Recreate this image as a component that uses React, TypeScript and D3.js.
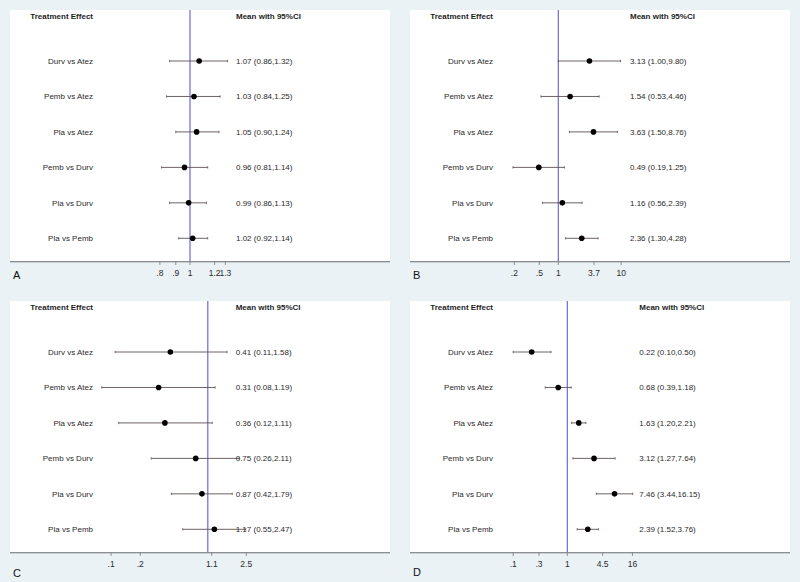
import React from "react";
import * as d3 from "d3";

const comparisons = ["Durv vs Atez", "Pemb vs Atez", "Pla vs Atez", "Pemb vs Durv", "Pla vs Durv", "Pla vs Pemb"];

const meanA = [1.07, 1.03, 1.05, 0.96, 0.99, 1.02];
const lowA = [0.86, 0.84, 0.9, 0.81, 0.86, 0.92];
const highA = [1.32, 1.25, 1.24, 1.14, 1.13, 1.14];
const ticksA = [0.8, 0.9, 1, 1.2, 1.3];
const tickLabelsA = [".8", ".9", "1", "1.2", "1.3"];

const meanB = [3.13, 1.54, 3.63, 0.49, 1.16, 2.36];
const lowB = [1.0, 0.53, 1.5, 0.19, 0.56, 1.3];
const highB = [9.8, 4.46, 8.76, 1.25, 2.39, 4.28];
const ticksB = [0.2, 0.5, 1, 3.7, 10];
const tickLabelsB = [".2", ".5", "1", "3.7", "10"];

const meanC = [0.41, 0.31, 0.36, 0.75, 0.87, 1.17];
const lowC = [0.11, 0.08, 0.12, 0.26, 0.42, 0.55];
const highC = [1.58, 1.19, 1.11, 2.11, 1.79, 2.47];
const ticksC = [0.1, 0.2, 1.1, 2.5];
const tickLabelsC = [".1", ".2", "1.1", "2.5"];

const meanD = [0.22, 0.68, 1.63, 3.12, 7.46, 2.39];
const lowD = [0.1, 0.39, 1.2, 1.27, 3.44, 1.52];
const highD = [0.5, 1.18, 2.21, 7.64, 16.15, 3.76];
const ticksD = [0.1, 0.3, 1, 4.5, 16];
const tickLabelsD = [".1", ".3", "1", "4.5", "16"];

const panelLetters = ["A", "B", "C", "D"];

const fmt = (v: number) => v.toFixed(2);

type PanelDef = {
  letter: string;
  x: number;
  y: number;
  nullX: number;
  k: number;
  textX: number;
  letterY: number;
  mean: number[];
  low: number[];
  high: number[];
  ticks: number[];
  tickLabels: string[];
};

const W = 380;
const AXIS_Y = 251.5;
const FONT = "'Liberation Sans', Arial, Helvetica, sans-serif";

function Panel({ p }: { p: PanelDef }) {
  const x = d3.scaleLog().domain([1, Math.E]).range([p.nullX, p.nullX + p.k]);
  const y = d3
    .scalePoint<string>()
    .domain(comparisons)
    .range([51, 228.3]);
  const ciColor = "#5f5050";
  return (
    <g transform={`translate(${p.x},${p.y})`}>
      <rect x={0} y={0} width={W} height={AXIS_Y} fill="#ffffff" />
      <text x={83} y={9} textAnchor="end" fontFamily={FONT} fontSize={8} fontWeight="bold" fill="#1e1e1e">
        Treatment Effect
      </text>
      <text x={p.textX} y={9} fontFamily={FONT} fontSize={8} fontWeight="bold" fill="#1e1e1e">
        Mean with 95%CI
      </text>
      <line x1={x(1)} x2={x(1)} y1={0} y2={AXIS_Y} stroke="#6a6ad6" strokeWidth={1.2} />
      {comparisons.map((c, i) => {
        const yy = y(c) as number;
        const x0 = x(p.low[i]);
        const x1 = x(p.high[i]);
        return (
          <g key={c}>
            <text x={83} y={yy} dy="0.35em" textAnchor="end" fontFamily={FONT} fontSize={8} fill="#2a2a2a">
              {c}
            </text>
            <line x1={x0} x2={x1} y1={yy} y2={yy} stroke={ciColor} strokeWidth={0.9} />
            <line x1={x0} x2={x0} y1={yy - 1.2} y2={yy + 1.2} stroke={ciColor} strokeWidth={0.8} />
            <line x1={x1} x2={x1} y1={yy - 1.2} y2={yy + 1.2} stroke={ciColor} strokeWidth={0.8} />
            <circle cx={x(p.mean[i])} cy={yy} r={2.8} fill="#000" />
            <text x={p.textX} y={yy} dy="0.35em" fontFamily={FONT} fontSize={8} fill="#2a2a2a">
              {`${fmt(p.mean[i])} (${fmt(p.low[i])},${fmt(p.high[i])})`}
            </text>
          </g>
        );
      })}
      <line x1={0} x2={W} y1={AXIS_Y + 0.8} y2={AXIS_Y + 0.8} stroke="#c9cfd3" strokeWidth={1.5} />
      <line x1={0} x2={W} y1={AXIS_Y} y2={AXIS_Y} stroke="#8a8f93" strokeWidth={1} />
      {p.ticks.map((t, i) => (
        <g key={t}>
          <line x1={x(t)} x2={x(t)} y1={AXIS_Y} y2={AXIS_Y + 3.5} stroke="#777" strokeWidth={0.8} />
          <text x={x(t)} y={AXIS_Y + 14.5} textAnchor="middle" fontFamily={FONT} fontSize={8.5} fill="#2a2a2a">
            {p.tickLabels[i]}
          </text>
        </g>
      ))}
      <text x={3} y={p.letterY} fontFamily={FONT} fontSize={11} fill="#111">
        {p.letter}
      </text>
    </g>
  );
}

export default function App() {
  const panels: PanelDef[] = [
    { letter: panelLetters[0], x: 10, y: 10, nullX: 180, k: 135, textX: 226, letterY: 269.3, mean: meanA, low: lowA, high: highA, ticks: ticksA, tickLabels: tickLabelsA },
    { letter: panelLetters[1], x: 410, y: 10, nullX: 148.3, k: 27.3, textX: 220, letterY: 268.5, mean: meanB, low: lowB, high: highB, ticks: ticksB, tickLabels: tickLabelsB },
    { letter: panelLetters[2], x: 10, y: 301, nullX: 197.8, k: 42, textX: 225.7, letterY: 275.5, mean: meanC, low: lowC, high: highC, ticks: ticksC, tickLabels: tickLabelsC },
    { letter: panelLetters[3], x: 410, y: 301, nullX: 157.3, k: 23.5, textX: 229.3, letterY: 275, mean: meanD, low: lowD, high: highD, ticks: ticksD, tickLabels: tickLabelsD },
  ];
  return (
    <div style={{ position: "absolute", left: 0, top: 0 }}>
      <svg width={800} height={582} style={{ display: "block" }}>
        <rect x={0} y={0} width={800} height={582} fill="#eaf2f6" />
        {panels.map((p) => (
          <Panel key={p.letter} p={p} />
        ))}
      </svg>
    </div>
  );
}
